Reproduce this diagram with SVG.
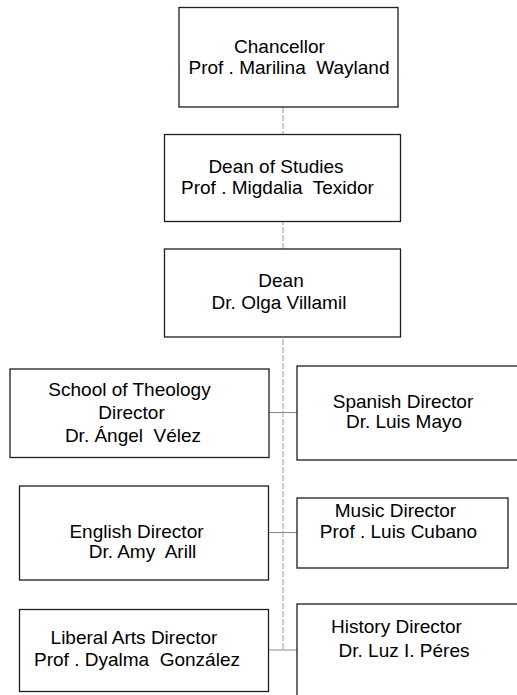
<svg xmlns="http://www.w3.org/2000/svg" width="517" height="695" viewBox="0 0 517 695" xml:space="preserve">
  <style>
    .box { fill: #ffffff; stroke: #1e1e1e; stroke-width: 1.3; }
    .spine { fill: none; stroke: #9a9a9a; stroke-width: 1; stroke-dasharray: 6 2; }
    .link { fill: none; stroke: #8a8a8a; stroke-width: 1; }
    .label { font-family: "Liberation Sans", Arial, sans-serif; font-size: 19px; fill: #000000; text-anchor: middle; white-space: pre; }
  </style>
  <rect width="517" height="695" fill="#ffffff"/>

  <!-- connectors -->
  <g id="connectors">
    <line class="spine" x1="283" y1="107" x2="283" y2="650"/>
    <line class="link" x1="269" y1="412.5" x2="297" y2="412.5"/>
    <line class="link" x1="268" y1="532.5" x2="297" y2="532.5"/>
    <line class="link" x1="268" y1="650" x2="297" y2="650"/>
  </g>

  <g id="chancellor">
    <rect class="box" x="179" y="7.5" width="219" height="99.5"/>
    <text class="label" x="279.5" y="53">Chancellor</text>
    <text class="label" x="289" y="74">Prof . Marilina  Wayland</text>
  </g>

  <g id="dean-of-studies">
    <rect class="box" x="164.5" y="134.5" width="236" height="87"/>
    <text class="label" x="276" y="172.5">Dean of Studies</text>
    <text class="label" x="277.5" y="194">Prof . Migdalia  Texidor</text>
  </g>

  <g id="dean">
    <rect class="box" x="164.5" y="249" width="236" height="88"/>
    <text class="label" x="281" y="286.5">Dean</text>
    <text class="label" x="279" y="309">Dr. Olga Villamil</text>
  </g>

  <g id="theology">
    <rect class="box" x="10" y="369" width="259" height="88.5"/>
    <text class="label" x="129.5" y="396">School of Theology</text>
    <text class="label" x="131.5" y="419.3">Director</text>
    <text class="label" x="133" y="442.3">Dr. Ángel  Vélez</text>
  </g>

  <g id="spanish">
    <rect class="box" x="297" y="366" width="225" height="94"/>
    <text class="label" x="403" y="407.7">Spanish Director</text>
    <text class="label" x="404" y="428.3">Dr. Luis Mayo</text>
  </g>

  <g id="english">
    <rect class="box" x="19.5" y="486" width="249" height="94"/>
    <text class="label" x="136.5" y="538.3">English Director</text>
    <text class="label" x="142.5" y="557.5">Dr. Amy  Arill</text>
  </g>

  <g id="music">
    <rect class="box" x="297" y="498" width="211" height="70"/>
    <text class="label" x="395.5" y="516.7">Music Director</text>
    <text class="label" x="398.5" y="538.3">Prof . Luis Cubano</text>
  </g>

  <g id="liberal-arts">
    <rect class="box" x="19.5" y="609.5" width="249" height="82"/>
    <text class="label" x="134" y="644.3">Liberal Arts Director</text>
    <text class="label" x="137" y="666">Prof . Dyalma  González</text>
  </g>

  <g id="history">
    <rect class="box" x="297" y="604" width="225" height="100"/>
    <text class="label" x="396.5" y="633.3">History Director</text>
    <text class="label" x="404" y="657.3">Dr. Luz I. Péres</text>
  </g>
</svg>
